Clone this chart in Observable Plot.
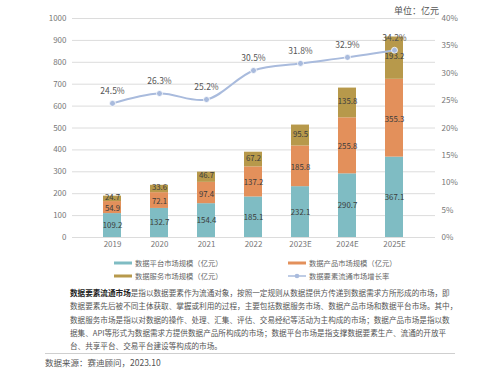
<!DOCTYPE html>
<html><head><meta charset="utf-8">
<script src="https://cdn.jsdelivr.net/npm/d3@7"></script>
<script src="https://cdn.jsdelivr.net/npm/@observablehq/plot@0.6"></script>
<style>
body{margin:0;background:#fff;font-family:"Noto Sans CJK SC","Noto Sans",sans-serif;}
#wrap{position:relative;width:500px;height:374px;overflow:hidden;}
#unit{position:absolute;left:394px;top:4px;font-size:9px;color:#555;}
.leg{position:absolute;font-size:7.3px;color:#666;display:flex;align-items:center;white-space:nowrap;}
.leg svg{margin-right:3px;}
#para{position:absolute;left:70px;top:286px;width:372px;font-size:7.6px;color:#555;line-height:13.3px;}
#para div{text-align:justify;text-align-last:justify;white-space:nowrap;}
#para div.last{text-align-last:left;}
#sep{position:absolute;left:45px;top:353px;width:410px;height:1px;background:#cfcfcf;}
#src{position:absolute;left:45px;top:356px;font-size:8.5px;color:#555;}
</style></head>
<body><div id="wrap"><div id="chart"></div><div id="unit">单位：亿元</div></div>
<script>
const years = ["2019","2020","2021","2022","2023E","2024E","2025E"];
const seriesNames = ["数据平台市场规模（亿元）","数据产品市场规模（亿元）","数据服务市场规模（亿元）"];
const platform = [109.2,132.7,154.4,185.1,232.1,290.7,367.1];
const product = [54.9,72.1,97.4,137.2,185.8,255.8,355.3];
const service = [24.7,33.6,46.7,67.2,95.5,135.8,193.2];
const growth = [24.5,26.3,25.2,30.5,31.8,32.9,34.2];
const lineName = "数据要素流通市场增长率";
const colors = ["#7fbcc3","#e3905b","#b7994b"];
const lineColor = "#a9bbdd";
const leftTicks = [0,100,200,300,400,500,600,700,800,900,1000];
const rightTicks = [0,5,10,15,20,25,30,35,40];

const table = [];
[platform, product, service].forEach((arr, si) => arr.forEach((v, i) => table.push({year: years[i], series: seriesNames[si], value: v})));
const lineData = years.map((y, i) => ({year: y, g: growth[i]}));
const k = 1000 / 40;
const labelMark = (name, dy) => Plot.text(table, Plot.stackY({
  x: "year", y: "value", z: "series", order: seriesNames,
  text: d => d.series === name ? d.value.toFixed(1) : "",
  fill: "#3c3c3c", fontSize: 7.8, dy
}));

const chart = Plot.plot({
  width: 500, height: 252,
  marginLeft: 72, marginRight: 65, marginTop: 18, marginBottom: 15,
  style: {fontFamily: '"Noto Sans CJK SC","Noto Sans",sans-serif', fontSize: "8px", color: "#666", background: "#fff"},
  x: {domain: years, padding: 0.615, label: null},
  y: {domain: [0, 1000], label: null},
  color: {domain: seriesNames, range: colors},
  marks: [
    Plot.gridY(leftTicks, {stroke: "#dcdcdc", strokeOpacity: 1}),
    Plot.axisY(leftTicks, {anchor: "left", tickSize: 0, tickPadding: 6, label: null, fill: "#777", tickFormat: d => String(d)}),
    Plot.axisY(rightTicks.map(d => d * k), {anchor: "right", tickSize: 0, tickPadding: 6, label: null, fill: "#777", tickFormat: d => Math.round(d / k) + "%"}),
    Plot.axisX({tickSize: 0, tickPadding: 4, label: null, fill: "#777"}),
    Plot.barY(table, Plot.stackY({x: "year", y: "value", fill: "series", order: seriesNames})),
    labelMark(seriesNames[0], 0),
    labelMark(seriesNames[1], 1),
    labelMark(seriesNames[2], -1.5),
    Plot.line(lineData, {x: "year", y: d => d.g * k, stroke: lineColor, strokeWidth: 2, curve: "catmull-rom"}),
    Plot.dot(lineData, {x: "year", y: d => d.g * k, r: 3, fill: lineColor, stroke: "#fff", strokeWidth: 0.8}),
    Plot.text(lineData, {x: "year", y: d => d.g * k, text: d => d.g.toFixed(1) + "%", dy: -12, fill: "#555", fontSize: 8.5})
  ]
});
document.getElementById("chart").appendChild(chart);

const wrap = document.getElementById("wrap");
const legItems = [
  {name: seriesNames[0], color: colors[0], x: 114, y: 258, line: false},
  {name: seriesNames[1], color: colors[1], x: 288, y: 258, line: false},
  {name: seriesNames[2], color: colors[2], x: 114, y: 271, line: false},
  {name: lineName, color: lineColor, x: 288, y: 271, line: true}
];
legItems.forEach(it => {
  const d = document.createElement("div");
  d.className = "leg";
  d.style.left = it.x + "px"; d.style.top = it.y + "px";
  const sw = it.line
    ? `<svg width="18" height="8"><line x1="0" y1="4" x2="18" y2="4" stroke="${it.color}" stroke-width="1.5"/><circle cx="9" cy="4" r="2.3" fill="${it.color}"/></svg>`
    : `<svg width="18" height="8"><line x1="0" y1="4" x2="18" y2="4" stroke="${it.color}" stroke-width="3"/></svg>`;
  d.innerHTML = sw + "<span>" + it.name + "</span>";
  wrap.appendChild(d);
});

const paraLines = [
  "<b style='color:#222'>数据要素流通市场</b>是指以数据要素作为流通对象，按照一定规则从数据提供方传递到数据需求方所形成的市场，即",
  "数据要素先后被不同主体获取、掌握或利用的过程，主要包括数据服务市场、数据产品市场和数据平台市场。其中，",
  "数据服务市场是指以对数据的操作、处理、汇集、评估、交易经纪等活动为主构成的市场；数据产品市场是指以数",
  "据集、API等形式为数据需求方提供数据产品所构成的市场；数据平台市场是指支撑数据要素生产、流通的开放平",
  "台、共享平台、交易平台建设等构成的市场。"
];
const para = document.createElement("div");
para.id = "para";
para.innerHTML = paraLines.map((l, i) => `<div class="${i === paraLines.length - 1 ? 'last' : ''}">${l}</div>`).join("");
wrap.appendChild(para);
const sep = document.createElement("div"); sep.id = "sep"; wrap.appendChild(sep);
const src = document.createElement("div"); src.id = "src"; src.textContent = "数据来源：赛迪顾问，2023.10"; wrap.appendChild(src);
</script></body></html>
